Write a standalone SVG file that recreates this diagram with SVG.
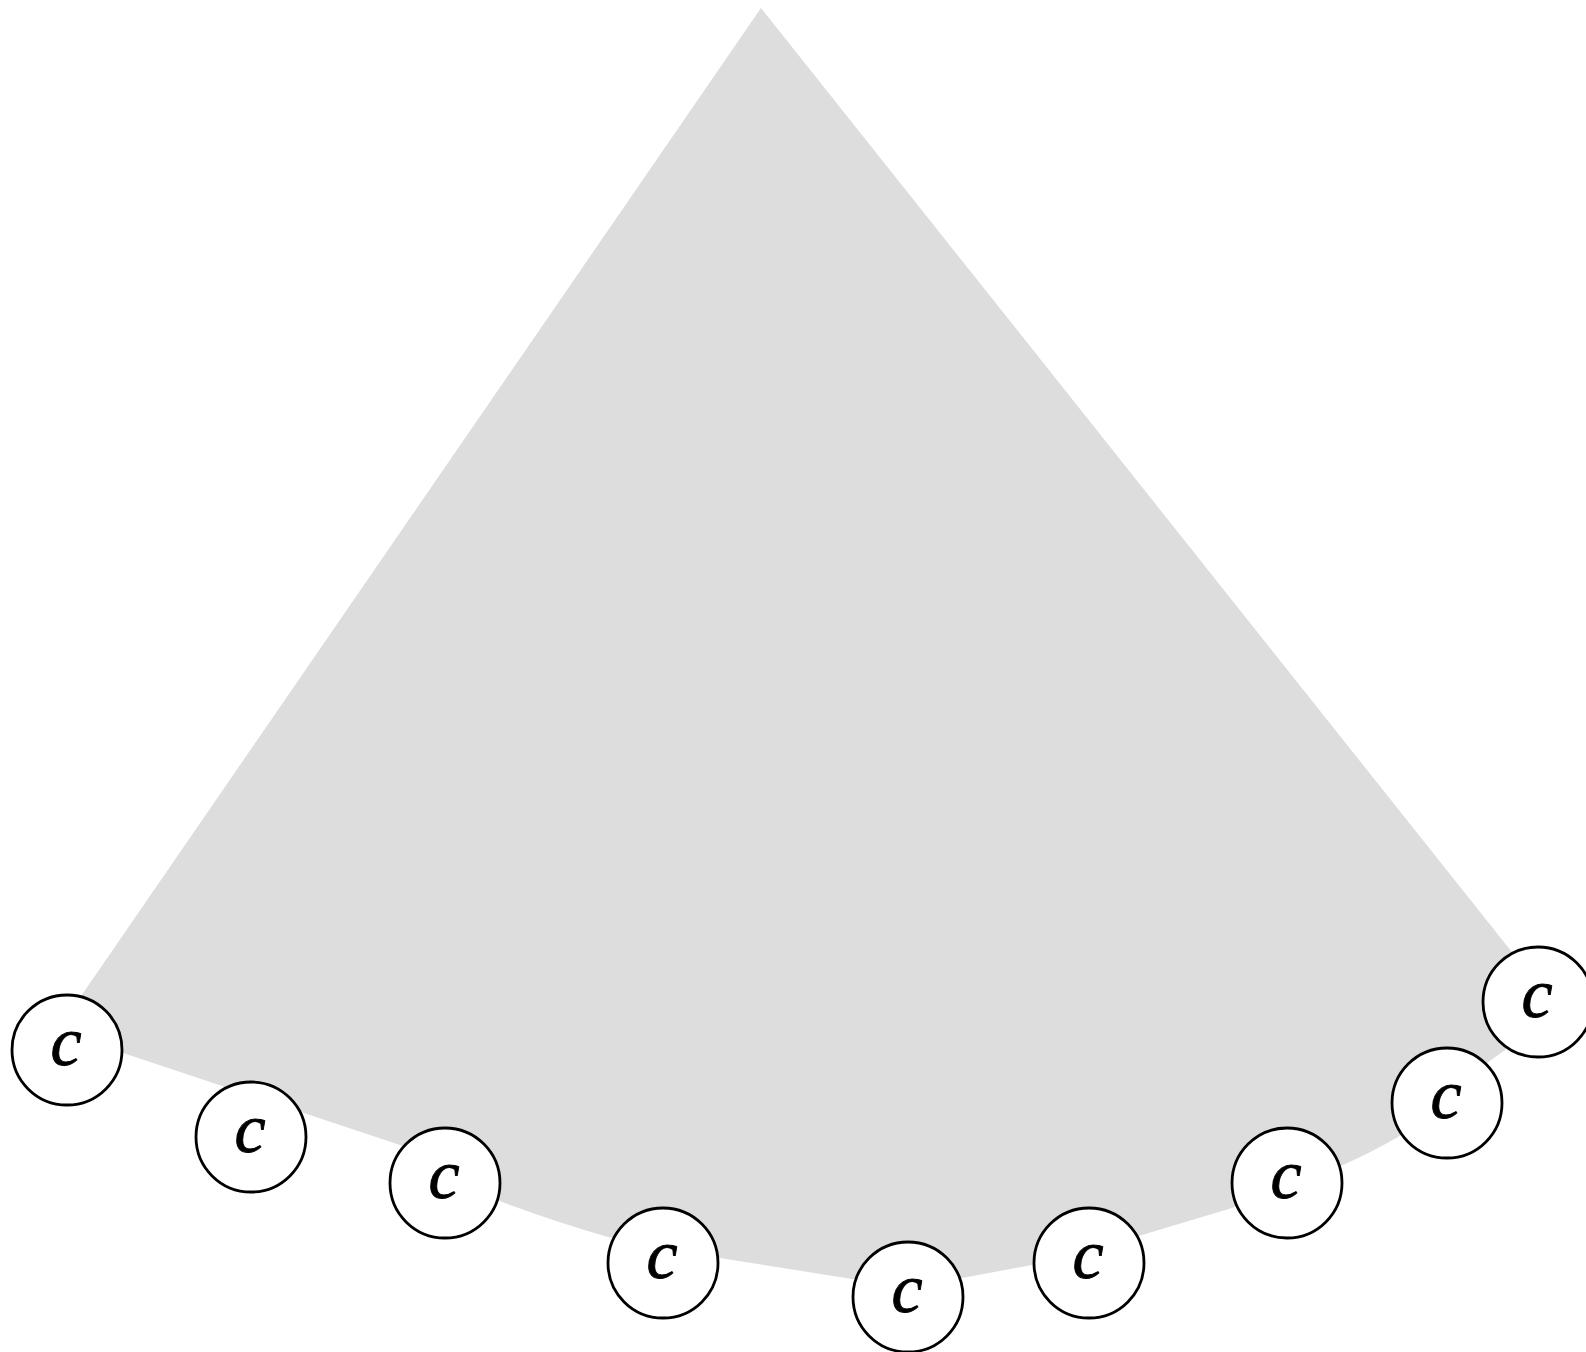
<svg xmlns="http://www.w3.org/2000/svg" width="1586" height="1352" viewBox="0 0 1586 1352">
<style>
.node circle{fill:#ffffff;stroke:#000000;stroke-width:2.8}
.node text{font-family:"Liberation Serif","DejaVu Serif",serif;font-style:italic;font-size:70px;text-anchor:middle;fill:#000000;stroke:#000000;stroke-width:0.9}
</style>
<rect width="1586" height="1352" fill="#ffffff"/>
<g id="region">
<path d="M761,8 L57,1031 L400,1145 L502,1202 Q556,1222 608,1237 L720,1258 L852,1279 L962,1278 L1032,1265 L1142,1235 L1232,1208 L1343,1165 Q1372,1152 1398,1137 L1487,1063 L1505,1050 L1550,1000 Z" fill="#dddddd"/>
</g>
<g id="connectors"></g>
<g id="n1" class="node"><circle cx="67" cy="1050" r="55"/><text x="66" y="1065">c</text></g>
<g id="n2" class="node"><circle cx="251" cy="1137" r="55"/><text x="250" y="1152">c</text></g>
<g id="n3" class="node"><circle cx="445" cy="1183" r="55"/><text x="444" y="1198">c</text></g>
<g id="n4" class="node"><circle cx="663" cy="1263" r="55"/><text x="662" y="1278">c</text></g>
<g id="n5" class="node"><circle cx="908" cy="1297" r="55"/><text x="907" y="1312">c</text></g>
<g id="n6" class="node"><circle cx="1089" cy="1263" r="55"/><text x="1088" y="1278">c</text></g>
<g id="n7" class="node"><circle cx="1287" cy="1183" r="55"/><text x="1286" y="1198">c</text></g>
<g id="n8" class="node"><circle cx="1447" cy="1103" r="55"/><text x="1446" y="1118">c</text></g>
<g id="n9" class="node"><circle cx="1538" cy="1002" r="55"/><text x="1537" y="1017">c</text></g>
</svg>
